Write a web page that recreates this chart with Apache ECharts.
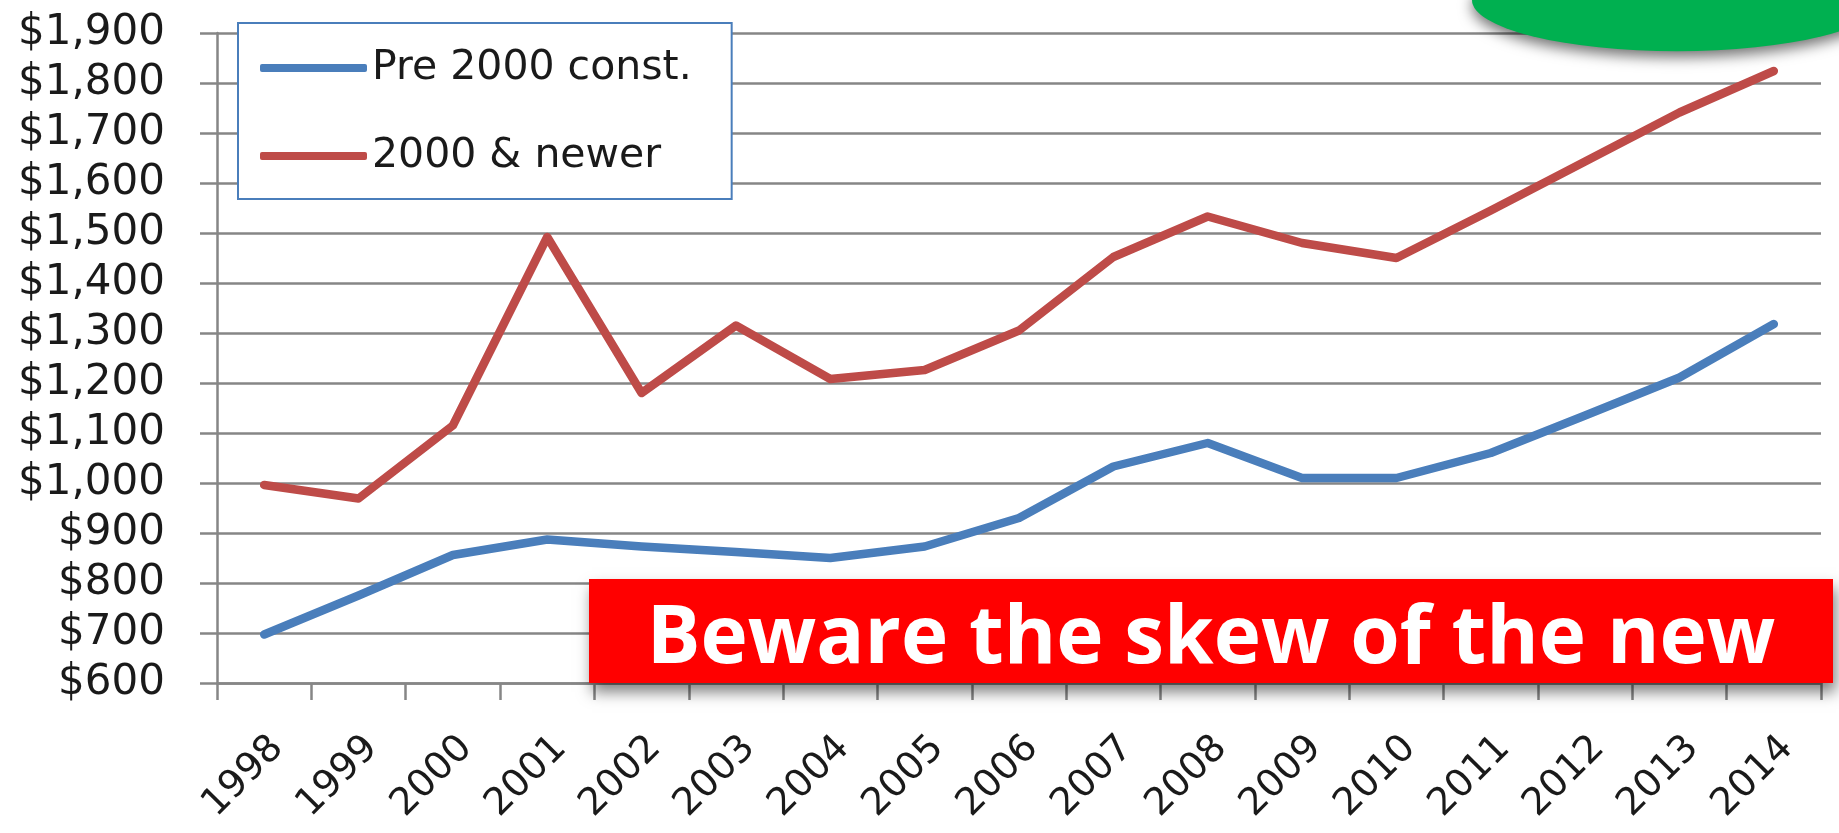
<!DOCTYPE html>
<html>
<head>
<meta charset="utf-8">
<script src="https://cdn.jsdelivr.net/npm/echarts@6/dist/echarts.min.js"></script>
<style>
  html, body { margin: 0; padding: 0; background: #ffffff; }
  #chart { width: 1839px; height: 833px; }
</style>
</head>
<body>
<div id="chart"></div>
<script>
const years = ['1998','1999','2000','2001','2002','2003','2004','2005','2006','2007','2008','2009','2010','2011','2012','2013','2014'];
const pre2000 = [697, 775, 856, 887, 873, 862, 850, 873, 930, 1033, 1080, 1010, 1010, 1060, 1135, 1211, 1318];
const newer2000 = [996, 969, 1115, 1492, 1180, 1315, 1208, 1226, 1305, 1452, 1533, 1480, 1450, 1545, 1643, 1741, 1824];
const seriesNames = ['Pre 2000 const.', '2000 & newer'];
const yMin = 600, yMax = 1900, yStep = 100;
const banner = 'Beware the skew of the new';

const chart = echarts.init(document.getElementById('chart'));
const axisFont = 'DejaVu Sans';
const gridGray = '#868686';

chart.setOption({
  backgroundColor: '#ffffff',
  animation: false,
  grid: { left: 217, right: 18, top: 33, bottom: 150, containLabel: false },
  legend: {
    orient: 'vertical',
    left: 238, top: 23,
    padding: [22, 40, 20, 22],
    itemGap: 42,
    itemWidth: 107, itemHeight: 8,
    icon: 'roundRect',
    backgroundColor: '#ffffff',
    borderColor: '#4a7ebb',
    borderWidth: 2,
    textStyle: { fontFamily: axisFont, fontSize: 41, color: '#1a1a1a', lineHeight: 46, padding: [0,0,0,0] },
    data: seriesNames
  },
  xAxis: {
    type: 'category',
    data: years,
    boundaryGap: true,
    axisLine: { show: true, lineStyle: { color: gridGray, width: 2.5 } },
    axisTick: { show: true, length: 17, lineStyle: { color: gridGray, width: 2.5 } },
    axisLabel: { rotate: 45, margin: 46, verticalAlign: 'top', fontFamily: axisFont, fontSize: 38, color: '#1a1a1a' },
    splitLine: { show: false }
  },
  yAxis: {
    type: 'value',
    min: yMin, max: yMax, interval: yStep,
    axisLine: { show: true, lineStyle: { color: gridGray, width: 2.5 } },
    axisTick: { show: true, length: 17, lineStyle: { color: gridGray, width: 2.5 } },
    axisLabel: {
      margin: 52, fontFamily: axisFont, fontSize: 42, color: '#1a1a1a',
      formatter: v => '$' + v.toLocaleString('en-US')
    },
    splitLine: { show: true, lineStyle: { color: gridGray, width: 2.5 } }
  },
  series: [
    { name: seriesNames[0], type: 'line', data: pre2000, symbol: 'none',
      itemStyle: { color: '#4a7ebb' },
      lineStyle: { color: '#4a7ebb', width: 8.5, cap: 'round', join: 'round' }, z: 3 },
    { name: seriesNames[1], type: 'line', data: newer2000, symbol: 'none',
      itemStyle: { color: '#be4b48' },
      lineStyle: { color: '#be4b48', width: 8.5, cap: 'round', join: 'round' }, z: 3 }
  ],
  graphic: [
    { type: 'circle', z: 100, x: 1677, y: 0, scaleY: 0.25,
      shape: { cx: 0, cy: 0, r: 205 },
      style: { fill: '#00b050', shadowBlur: 14, shadowColor: 'rgba(0,0,0,0.55)', shadowOffsetY: 6 } },
    { type: 'rect', z: 100, shape: { x: 589, y: 579, width: 1244, height: 104 },
      style: { fill: '#ff0000', shadowBlur: 14, shadowColor: 'rgba(0,0,0,0.5)', shadowOffsetX: 3, shadowOffsetY: 9 } },
    { type: 'text', z: 101, x: 1211, y: 640,
      style: { text: banner, fill: '#ffffff', font: 'bold 80px "Open Sans"', textAlign: 'center', textVerticalAlign: 'middle' } }
  ]
});
</script>
</body>
</html>
